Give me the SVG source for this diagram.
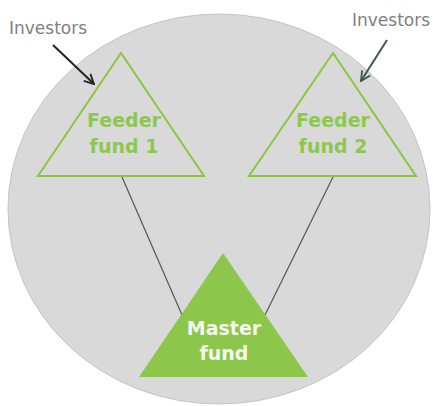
<svg xmlns="http://www.w3.org/2000/svg" width="433" height="406" viewBox="0 0 433 406">
<style>
.feeder{fill:none;stroke:#8cc63f;stroke-width:2}
.ftext{font-family:"DejaVu Sans",Verdana,sans-serif;font-weight:bold;font-size:19px;fill:#8cc850;text-anchor:middle}
.mtext{font-family:"DejaVu Sans",Verdana,sans-serif;font-weight:bold;font-size:19px;fill:#f4f8ee;text-anchor:middle}
.inv{font-family:"DejaVu Sans",Verdana,sans-serif;font-size:17px;fill:#7f7f7f}
.conn{stroke:#555;stroke-width:1.2;fill:none}
</style>
<defs>
<marker id="ah1" viewBox="0 0 10 10" refX="9" refY="5" markerWidth="12" markerHeight="12" orient="auto" markerUnits="userSpaceOnUse">
<path d="M1,1 L9,5 L1,9" fill="none" stroke="#222" stroke-width="1.5"/>
</marker>
<marker id="ah2" viewBox="0 0 10 10" refX="9" refY="5" markerWidth="12" markerHeight="12" orient="auto" markerUnits="userSpaceOnUse">
<path d="M1,1 L9,5 L1,9" fill="none" stroke="#3d5a4a" stroke-width="1.5"/>
</marker>
</defs>
<ellipse cx="219" cy="209" rx="211" ry="195" fill="#d9d9d9" stroke="#c4c4c4" stroke-width="1"/>
<g id="connectors">
<line class="conn" x1="122" y1="177" x2="182" y2="315"/>
<line class="conn" x1="333" y1="177" x2="265" y2="315"/>
<line x1="53" y1="45" x2="94" y2="84" stroke="#222" stroke-width="2" marker-end="url(#ah1)"/>
<line x1="387" y1="40" x2="361" y2="81" stroke="#3d5a4a" stroke-width="2" marker-end="url(#ah2)"/>
</g>
<g id="investors1"><text class="inv" x="9" y="34">Investors</text></g>
<g id="investors2"><text class="inv" x="352" y="26">Investors</text></g>
<g id="feeder1">
<polygon class="feeder" points="121,53 38,176 204,176"/>
<text class="ftext" x="124" y="127">Feeder</text>
<text class="ftext" x="124" y="153">fund 1</text>
</g>
<g id="feeder2">
<polygon class="feeder" points="333,53 249,176 416,176"/>
<text class="ftext" x="333" y="127">Feeder</text>
<text class="ftext" x="333" y="153">fund 2</text>
</g>
<g id="master">
<polygon points="223,253 139,377 308,377" fill="#8cc64a"/>
<text class="mtext" x="224" y="335">Master</text>
<text class="mtext" x="224" y="360">fund</text>
</g>
</svg>
